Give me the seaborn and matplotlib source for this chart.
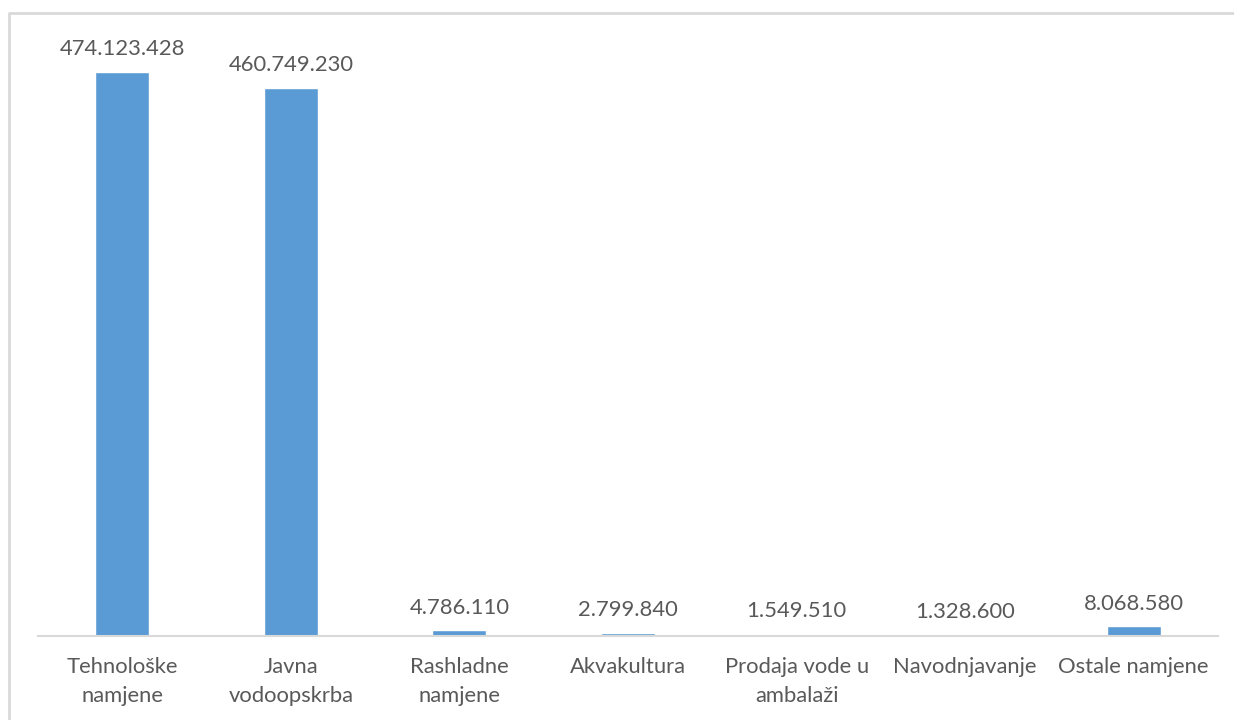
import matplotlib
matplotlib.use("Agg")
import matplotlib.pyplot as plt
from matplotlib.lines import Line2D
import seaborn as sns
import pandas as pd

categories = ["Tehnološke\nnamjene", "Javna\nvodoopskrba", "Rashladne\nnamjene",
              "Akvakultura", "Prodaja vode u\nambalaži", "Navodnjavanje", "Ostale namjene"]
values = [474123428, 460749230, 4786110, 2799840, 1549510, 1328600, 8068580]

sns.set_theme(style="white")
plt.rcParams['font.family'] = ['Lato', 'DejaVu Sans']

df = pd.DataFrame({"cat": categories, "val": values})

fig = plt.figure(figsize=(12.34, 7.2), dpi=100)
W, H = 1234, 720
ax = fig.add_axes([38 / W, 1 - 636 / H, (1218 - 38) / W, (636 - 41) / H])

sns.barplot(data=df, x="cat", y="val", ax=ax, color="#5B9BD5", saturation=1,
            width=0.32, errorbar=None)

ax.set_ylim(0, 500_000_000)
ax.set_xlim(-0.5, len(categories) - 0.5)
ax.set_xlabel("")
ax.set_ylabel("")
ax.set_yticks([])
for s in ["top", "right", "left"]:
    ax.spines[s].set_visible(False)
ax.spines["bottom"].set_color("#D9D9D9")
ax.spines["bottom"].set_linewidth(1.5)
ax.tick_params(axis="x", length=0, pad=15, labelsize=15.8, colors="#595959")
for lbl in ax.get_xticklabels():
    lbl.set_linespacing(1.55)

for i, v in enumerate(values):
    ax.annotate(f"{v:,}".replace(",", "."), (i, v), xytext=(0, 12),
                textcoords="offset points", ha="center", va="baseline",
                fontsize=15.8, color="#595959")

# chart-area border (light gray)
fig.add_artist(Line2D([9 / W, 9 / W, 1.0], [0.0, 1 - 12.5 / H, 1 - 12.5 / H],
                      transform=fig.transFigure, color="#D9D9D9", linewidth=2))

fig.savefig("out.png", dpi=100, facecolor="white")
